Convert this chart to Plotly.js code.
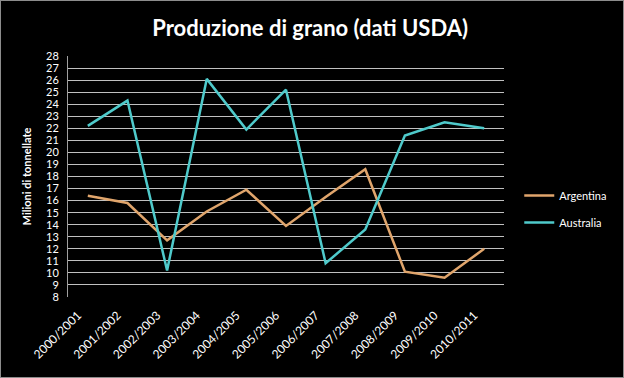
<!DOCTYPE html>
<html><head><meta charset="utf-8">
<script src="https://cdn.plot.ly/plotly-3.0.1.min.js"></script>
<style>
html,body{margin:0;padding:0;background:#000;}
#wrap{position:relative;width:624px;height:378px;}
#chart{width:624px;height:378px;}
#frame{position:absolute;left:0;top:0;width:622px;height:376px;border:1px solid #8c8c8c;pointer-events:none;}
</style></head>
<body>
<div id="wrap"><div id="chart"></div><div id="frame"></div></div>
<script>
const categories = ["2000/2001","2001/2002","2002/2003","2003/2004","2004/2005","2005/2006","2006/2007","2007/2008","2008/2009","2009/2010","2010/2011"];
const argentina = [16.4, 15.8, 12.7, 15.1, 16.9, 13.9, 16.3, 18.6, 10.1, 9.6, 12.0];
const australia = [22.2, 24.3, 10.2, 26.1, 21.9, 25.2, 10.8, 13.6, 21.4, 22.5, 22.0];
const yTicks = [8,9,10,11,12,13,14,15,16,17,18,19,20,21,22,23,24,25,26,27,28];

const font = "Lato, 'Open Sans', sans-serif";
const traces = [
  {x: categories, y: argentina, name: "Argentina", legendgroup: "a", type: "scatter", mode: "lines",
   line: {color: "#E0A56C", width: 2.5}},
  {x: categories, y: australia, name: "Australia", legendgroup: "b", type: "scatter", mode: "lines",
   line: {color: "#4FCACB", width: 2.5}}
];
const layout = {
  width: 624, height: 378,
  paper_bgcolor: "#000", plot_bgcolor: "#000",
  margin: {l: 68, r: 117, t: 56, b: 81},
  font: {family: font, color: "#fff", size: 11},
  title: {text: "<b>Produzione di grano (dati USDA)</b>", x: 0.497, xanchor: "center", y: 0.925, yanchor: "middle",
          font: {family: font, size: 22, color: "#fff"}},
  xaxis: {type: "category", tickangle: -45, range: [-0.5, 10.5], showgrid: false, zeroline: false,
          showline: false, ticks: "", tickfont: {size: 12, color: "#fff"},
          ticklabelshift: -10, ticklabelstandoff: 8},
  yaxis: {range: [8, 28], tickvals: yTicks, ticktext: yTicks.map(String), showgrid: true,
          gridcolor: "#c0c0c0", gridwidth: 1, zeroline: false, showline: true, linecolor: "#a0a0a0",
          ticks: "", tickfont: {size: 11, color: "#fff"}, ticklabelstandoff: 6,
          title: {text: "<b>Milioni di tonnellate</b>", standoff: 12, font: {size: 11, color: "#fff"}}},
  legend: {x: 1.035, y: 0.365, xanchor: "left", yanchor: "middle", bgcolor: "rgba(0,0,0,0)",
           font: {size: 11, color: "#fff"}, traceorder: "grouped", tracegroupgap: 8, itemwidth: 30},
  showlegend: true
};
Plotly.newPlot("chart", traces, layout, {staticPlot: true, displayModeBar: false});
</script>
</body></html>
